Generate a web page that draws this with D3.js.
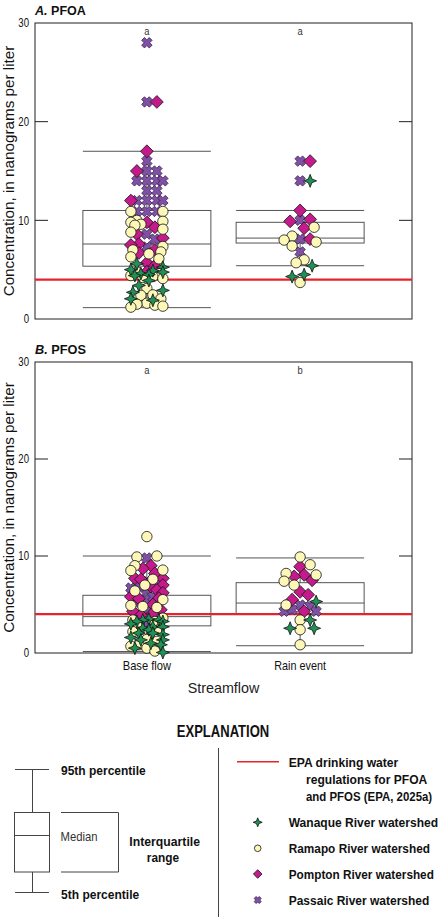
<!DOCTYPE html>
<html><head><meta charset="utf-8">
<script src="https://cdn.jsdelivr.net/npm/d3@7"></script>
<style>
html,body{margin:0;padding:0;background:#fff;}
svg{display:block;}
text{font-family:'Liberation Sans',Arial,sans-serif;}
</style></head>
<body>
<svg id="chart" width="439" height="917"></svg>
<script>
// ---------- DATA ----------
const categories = ["Base flow", "Rain event"];
const yTicks = [0, 10, 20, 30];
const epaLimit = 4;
const sigLettersPFOA = ["a", "a"];
const sigLettersPFOS = ["a", "b"];
// box stats: [p5, q1, median, q3, p95]
const pfoaBaseBox = [1.15, 5.35, 7.6, 11.0, 17.0];
const pfoaRainBox = [5.4, 7.7, 8.2, 9.8, 11.0];
const pfosBaseBox = [0.15, 2.8, 3.75, 5.95, 10.0];
const pfosRainBox = [0.75, 4.0, 5.15, 7.25, 9.8];

// PFOA points
const pfoaBaseWanaque = [5.6, 5.25, 5.0, 4.9, 4.75, 4.6, 4.5, 4.4, 3.9, 3.4, 2.9, 2.7, 2.05, 1.9];
const pfoaBaseRamapo = [10.9, 10.9, 10.0, 9.9, 9.8, 9.6, 9.5, 9.1, 8.8, 7.35, 7.0, 6.8, 6.6, 6.3, 6.1, 4.75, 4.6, 4.4, 4.3, 4.2, 4.1, 3.1, 2.45, 2.4, 2.05, 1.6, 1.5, 1.4, 1.3, 1.2];
const pfoaBasePompton = [22, 17, 15, 12, 9.8, 9.3, 8.6, 8.2, 7.6, 7.5, 7.0, 6.7, 5.7, 5.4, 4.8];
const pfoaBasePassaic = [28, 22, 16, 15, 15, 14, 14, 14, 14, 13, 13, 12, 12, 12, 12, 10.9, 10.9, 10.9, 8.6, 8.1, 7.3];
const pfoaRainWanaque = [14, 5.4, 4.5, 4.3];
const pfoaRainRamapo = [9.3, 8.4, 8.0, 7.8, 7.4, 6.0, 5.7, 3.7];
const pfoaRainPompton = [16, 11, 10.1, 9.9, 9.2, 8.1];
const pfoaRainPassaic = [16, 14, 10, 8.1, 6.8];

// PFOS points
const pfosBaseWanaque = [3.5, 3.4, 3.4, 3.25, 3.25, 3.0, 2.7, 2.7, 2.55, 2.4, 2.05, 2.05, 1.9, 1.6, 1.35, 1.35, 1.0, 0.85, 0.5, 0.05];
const pfosBaseRamapo = [12.0, 10.0, 9.9, 9.0, 8.55, 8.5, 7.6, 7.0, 6.4, 5.5, 4.9, 4.8, 4.7, 3.6, 3.4, 3.25, 2.9, 2.4, 2.2, 1.4, 1.2, 0.85, 0.7, 0.5, 0.2];
const pfosBasePompton = [9.0, 8.7, 8.2, 7.7, 7.7, 7.6, 7.0, 6.85, 6.5, 6.2, 5.8, 5.65, 5.6, 5.0, 4.45, 4.3, 4.1, 3.9];
const pfosBasePassaic = [9.8, 7.4, 7.2, 6.85, 6.7, 6.5, 5.8, 5.5, 5.1, 4.5, 3.0];
const pfosRainWanaque = [5.3, 3.4, 2.55, 2.55];
const pfosRainRamapo = [9.9, 9.1, 8.2, 8.05, 7.4, 7.0, 4.95, 3.4, 2.4, 0.85];
const pfosRainPompton = [8.9, 8.05, 7.9, 7.5, 6.3, 6.0, 5.5, 4.3];
const pfosRainPassaic = [4.95, 4.8, 4.45, 4.3, 4.3];

const seriesNames = ["Wanaque River watershed", "Ramapo River watershed", "Pompton River watershed", "Passaic River watershed"];

// ---------- STYLE ----------
const COL = {
  wanaque: "#1f9155", ramapo: "#fdf7b8", pompton: "#c41a8c", passaic: "#7f50a3",
  frame: "#231f20", box: "#555", red: "#e8222a"
};

const svg = d3.select("#chart");

// condense text horizontally via a transform (reference uses a condensed face)
function scaleText(node, f) {
  const xx = +(node.getAttribute("x") || 0);
  const yy = +(node.getAttribute("y") || 0);
  const t0 = node.getAttribute("transform") || "";
  node.setAttribute("x", 0);
  node.setAttribute("y", 0);
  node.setAttribute("transform", `${t0} translate(${xx},${yy}) scale(${f.toFixed(4)},1)`);
}
function fitW(sel, w) {
  sel.each(function () { scaleText(this, w / this.getComputedTextLength()); });
  return sel;
}
function condense(sel, f) {
  sel.each(function () { scaleText(this, f); });
  return sel;
}

// ---------- SYMBOLS ----------
function starPath(r) {
  const k = r * 0.28;
  return `M0,${-r}L${k},${-k}L${r},0L${k},${k}L0,${r}L${-k},${k}L${-r},0L${-k},${-k}Z`;
}
function diamondPath(r) {
  return `M0,${-r}L${r},0L0,${r}L${-r},0Z`;
}
function xPath(a, w) {
  const pts = [[w,-a],[w,-w],[a,-w],[a,w],[w,w],[w,a],[-w,a],[-w,w],[-a,w],[-a,-w],[-w,-w],[-w,-a]];
  const c = Math.SQRT1_2;
  return "M" + pts.map(([x,y]) => [(x - y) * c, (x + y) * c].map(v => v.toFixed(2)).join(",")).join("L") + "Z";
}
function circlePath(r) {
  return `M${r},0A${r},${r} 0 1,1 ${-r},0A${r},${r} 0 1,1 ${r},0Z`;
}
const symbolDefs = {
  passaic: {d: xPath(5.4, 2.0), fill: COL.passaic, stroke: "#3a2450"},
  pompton: {d: diamondPath(6.4), fill: COL.pompton, stroke: "#111"},
  ramapo: {d: circlePath(5.2), fill: COL.ramapo, stroke: "#111"},
  wanaque: {d: starPath(6.5), fill: COL.wanaque, stroke: "#111"}
};
const legendSymbolDefs = {
  wanaque: starPath(4.5), ramapo: circlePath(3.3), pompton: diamondPath(4.3), passaic: xPath(3.6, 1.4)
};

// ---------- LAYOUT ----------
const xLeft = 35, xRight = 412;
const x = d3.scalePoint().domain(categories).range([xLeft, xRight]).padding(0.73);
const boxHalf = 64;

function dodge(points, yScale) {
  const placed = [];
  const cands = [0];
  for (let s = 2; s <= 16; s += 2) { cands.push(s, -s); }
  const minD = 8.5;
  points.forEach(p => {
    const cy = yScale(p.v);
    let best = 0, bestScore = -1;
    for (const c of cands) {
      let md = Infinity;
      for (const q of placed) {
        if (q.cat !== p.cat) continue;
        const d = Math.hypot(q.dx - c, q.cy - cy);
        if (d < md) md = d;
      }
      if (md >= minD) { best = c; bestScore = Infinity; break; }
      if (md > bestScore) { bestScore = md; best = c; }
    }
    p.dx = best; p.cy = cy;
    placed.push(p);
  });
  return points;
}

function drawPanel(cfg) {
  const g = svg.append("g");
  const y = d3.scaleLinear().domain([0, 30]).range([cfg.bottom, cfg.top]);

  // title
  const t = g.append("text").attr("x", xLeft).attr("y", cfg.top - 8)
    .attr("font-size", 13).attr("font-weight", "bold").attr("fill", "#111");
  t.append("tspan").attr("font-style", "italic").text(cfg.letter + ".");
  t.append("tspan").text(" " + cfg.name);
  fitW(t, 51);

  // frame
  g.append("rect").attr("x", xLeft).attr("y", cfg.top).attr("width", xRight - xLeft)
    .attr("height", cfg.bottom - cfg.top).attr("fill", "none").attr("stroke", COL.frame).attr("stroke-width", 1);

  const axL = d3.axisLeft(y).tickValues(yTicks).tickSize(0).tickPadding(6);
  const gl = g.append("g").attr("transform", `translate(${xLeft},0)`).call(axL);
  gl.select(".domain").remove();
  gl.selectAll("text").attr("font-size", 12).attr("fill", "#111")
    .attr("font-family", "'Liberation Sans',Arial,sans-serif");
  condense(gl.selectAll("text"), 0.8);
  const inner = yTicks.filter(v => v > 0 && v < 30);
  g.selectAll(".tl").data(inner).join("line")
    .attr("x1", xLeft).attr("x2", xLeft + 13).attr("y1", d => y(d)).attr("y2", d => y(d))
    .attr("stroke", COL.frame).attr("stroke-width", 1);
  g.selectAll(".tr").data(inner).join("line")
    .attr("x1", xRight - 13).attr("x2", xRight).attr("y1", d => y(d)).attr("y2", d => y(d))
    .attr("stroke", COL.frame).attr("stroke-width", 1);

  // y label
  const yl = g.append("text").attr("transform", `translate(14,${(cfg.top + cfg.bottom) / 2}) rotate(-90)`)
    .attr("text-anchor", "middle").attr("font-size", 14).attr("fill", "#111")
    .text("Concentration, in nanograms per liter");
  fitW(yl, 251);

  // boxes
  cfg.boxes.forEach((b, i) => {
    const cx = x(categories[i]);
    const [p5, q1, med, q3, p95] = b;
    const bg = g.append("g").attr("stroke", COL.box).attr("stroke-width", 1).attr("fill", "none");
    bg.append("line").attr("x1", cx).attr("x2", cx).attr("y1", y(p95)).attr("y2", y(q3));
    bg.append("line").attr("x1", cx).attr("x2", cx).attr("y1", y(q1)).attr("y2", y(p5));
    bg.append("line").attr("x1", cx - boxHalf).attr("x2", cx + boxHalf).attr("y1", y(p95)).attr("y2", y(p95));
    bg.append("line").attr("x1", cx - boxHalf).attr("x2", cx + boxHalf).attr("y1", y(p5)).attr("y2", y(p5));
    bg.append("rect").attr("x", cx - boxHalf).attr("y", y(q3)).attr("width", boxHalf * 2).attr("height", y(q1) - y(q3));
    bg.append("line").attr("x1", cx - boxHalf).attr("x2", cx + boxHalf).attr("y1", y(med)).attr("y2", y(med));
    const s = g.append("text").attr("x", cx).attr("y", cfg.top + 12).attr("text-anchor", "middle")
      .attr("font-size", 11).attr("fill", "#333").text(cfg.sig[i]);
    condense(s, 0.85);
  });

  // EPA line
  g.append("line").attr("x1", xLeft).attr("x2", xRight).attr("y1", y(epaLimit)).attr("y2", y(epaLimit))
    .attr("stroke", COL.red).attr("stroke-width", 2.2);

  const order = ["passaic", "pompton", "ramapo", "wanaque"];
  order.forEach(key => {
    categories.forEach((c, i) => {
      cfg.points[i][key].forEach(v => cfg.all.push({cat: c, v, key}));
    });
  });
  dodge(cfg.all, y);
  g.selectAll(".pt").data(cfg.all).join("path")
    .attr("d", d => symbolDefs[d.key].d)
    .attr("transform", d => `translate(${x(d.cat) + d.dx},${d.cy})`)
    .attr("fill", d => symbolDefs[d.key].fill)
    .attr("stroke", d => symbolDefs[d.key].stroke)
    .attr("stroke-width", 0.8);

  if (cfg.xlabels) {
    const widths = [48.3, 51.7];
    g.selectAll(".xl").data(categories).join("text")
      .attr("x", d => x(d)).attr("y", cfg.bottom + 16.5).attr("text-anchor", "middle")
      .attr("font-size", 12.5).attr("fill", "#111").text(d => d)
      .each(function (d, i) { fitW(d3.select(this), widths[i]); });
  }
}

drawPanel({
  letter: "A", name: "PFOA", top: 23, bottom: 319, sig: sigLettersPFOA,
  boxes: [pfoaBaseBox, pfoaRainBox], all: [],
  points: [
    {wanaque: pfoaBaseWanaque, ramapo: pfoaBaseRamapo, pompton: pfoaBasePompton, passaic: pfoaBasePassaic},
    {wanaque: pfoaRainWanaque, ramapo: pfoaRainRamapo, pompton: pfoaRainPompton, passaic: pfoaRainPassaic}
  ]
});
drawPanel({
  letter: "B", name: "PFOS", top: 362, bottom: 653, sig: sigLettersPFOS, xlabels: true,
  boxes: [pfosBaseBox, pfosRainBox], all: [],
  points: [
    {wanaque: pfosBaseWanaque, ramapo: pfosBaseRamapo, pompton: pfosBasePompton, passaic: pfosBasePassaic},
    {wanaque: pfosRainWanaque, ramapo: pfosRainRamapo, pompton: pfosRainPompton, passaic: pfosRainPassaic}
  ]
});

// x axis title
fitW(svg.append("text").attr("x", 223.5).attr("y", 692.5).attr("text-anchor", "middle")
  .attr("font-size", 15).attr("fill", "#222").text("Streamflow"), 71.6);

// ---------- EXPLANATION ----------
const lg = svg.append("g");
fitW(lg.append("text").attr("x", 223).attr("y", 736.7).attr("text-anchor", "middle")
  .attr("font-size", 16).attr("font-weight", "bold").attr("fill", "#111").text("EXPLANATION"), 92.6);
lg.append("line").attr("x1", 218.5).attr("x2", 218.5).attr("y1", 748).attr("y2", 917)
  .attr("stroke", "#444").attr("stroke-width", 1);

const bl = lg.append("g").attr("stroke", "#444").attr("stroke-width", 1).attr("fill", "none");
bl.append("line").attr("x1", 15).attr("x2", 49).attr("y1", 769.5).attr("y2", 769.5);
bl.append("line").attr("x1", 32.5).attr("x2", 32.5).attr("y1", 769.5).attr("y2", 812.5);
bl.append("rect").attr("x", 14.5).attr("y", 812.5).attr("width", 35).attr("height", 59.5);
bl.append("line").attr("x1", 14.5).attr("x2", 49.5).attr("y1", 835.5).attr("y2", 835.5);
bl.append("line").attr("x1", 32.5).attr("x2", 32.5).attr("y1", 872).attr("y2", 892.5);
bl.append("line").attr("x1", 15).attr("x2", 49).attr("y1", 892.5).attr("y2", 892.5);
bl.append("path").attr("d", "M61,812.5H118.5V872H61");

function legText(str, xx, yy, w, opts = {}) {
  const tt = lg.append("text").attr("x", xx).attr("y", yy).attr("font-size", opts.size || 13.5)
    .attr("font-weight", opts.normal ? "normal" : "bold").attr("fill", opts.fill || "#111")
    .attr("text-anchor", opts.anchor || "start").text(str);
  fitW(tt, w);
}
legText("95th percentile", 61, 775, 84.7);
legText("5th percentile", 61, 898.5, 78.3);
legText("Median", 60.5, 840.5, 37, {normal: true, size: 12.5, fill: "#333"});
legText("Interquartile", 164.7, 845.5, 70.7, {anchor: "middle"});
legText("range", 162.9, 861.5, 32.3, {anchor: "middle"});

lg.append("line").attr("x1", 237).attr("x2", 279).attr("y1", 761.7).attr("y2", 761.7).attr("stroke", COL.red).attr("stroke-width", 1.5);
legText("EPA drinking water", 288.7, 766.7, 109.7);
legText("regulations for PFOA", 306, 783.5, 121.3);
legText("and PFOS (EPA, 2025a)", 306, 800.5, 126.3);

const legKeys = ["wanaque", "ramapo", "pompton", "passaic"];
const legY = [822.3, 848.3, 874, 900];
const legW = [149.5, 141.3, 145.3, 140.7];
legKeys.forEach((k, i) => {
  lg.append("path").attr("d", legendSymbolDefs[k]).attr("transform", `translate(257.7,${legY[i]})`)
    .attr("fill", symbolDefs[k].fill).attr("stroke", symbolDefs[k].stroke).attr("stroke-width", 0.8);
  legText(seriesNames[i], 288.7, legY[i] + 4.8, legW[i]);
});
</script>
</body></html>
